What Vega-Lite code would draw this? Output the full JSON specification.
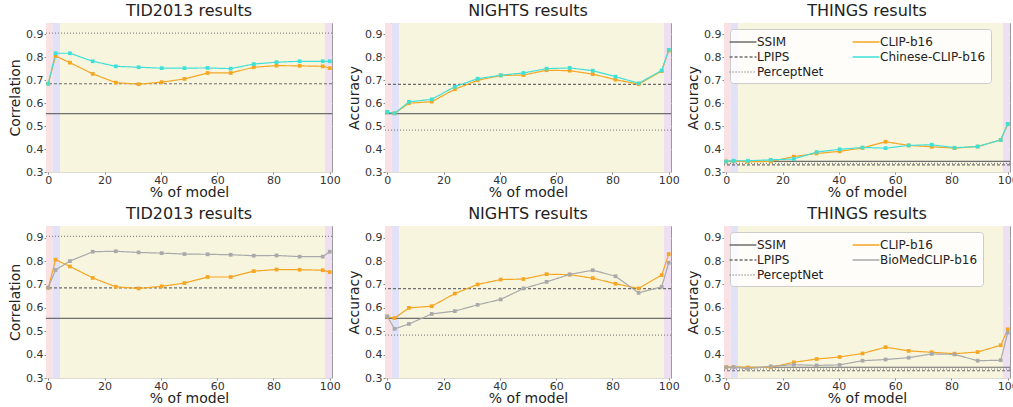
{
  "$schema": "https://vega.github.io/schema/vega-lite/v6.json",
  "background": "white",
  "padding": {"left": 8, "top": 2, "right": 0, "bottom": 0},
  "datasets": {
    "regions": [
      {"start": -0.8, "end": 1.6, "region": "a"},
      {"start": 1.6, "end": 4.2, "region": "b"},
      {"start": 4.2, "end": 98.3, "region": "c"},
      {"start": 98.3, "end": 100.8, "region": "d"}
    ],
    "baselines": [
      {"dataset": "TID2013", "name": "SSIM", "value": 0.555},
      {"dataset": "TID2013", "name": "LPIPS", "value": 0.685},
      {"dataset": "TID2013", "name": "PerceptNet", "value": 0.906},
      {"dataset": "NIGHTS", "name": "SSIM", "value": 0.555},
      {"dataset": "NIGHTS", "name": "LPIPS", "value": 0.682},
      {"dataset": "NIGHTS", "name": "PerceptNet", "value": 0.483},
      {"dataset": "THINGS", "name": "SSIM", "value": 0.346},
      {"dataset": "THINGS", "name": "LPIPS", "value": 0.331},
      {"dataset": "THINGS", "name": "PerceptNet", "value": 0.338}
    ],
    "curves": [
      {"dataset": "TID2013", "name": "CLIP-b16", "x": 0, "y": 0.685},
      {"dataset": "TID2013", "name": "CLIP-b16", "x": 2.6, "y": 0.806},
      {"dataset": "TID2013", "name": "CLIP-b16", "x": 7.7, "y": 0.777},
      {"dataset": "TID2013", "name": "CLIP-b16", "x": 15.8, "y": 0.728},
      {"dataset": "TID2013", "name": "CLIP-b16", "x": 24, "y": 0.690},
      {"dataset": "TID2013", "name": "CLIP-b16", "x": 32.1, "y": 0.683},
      {"dataset": "TID2013", "name": "CLIP-b16", "x": 40.3, "y": 0.692},
      {"dataset": "TID2013", "name": "CLIP-b16", "x": 48.4, "y": 0.706},
      {"dataset": "TID2013", "name": "CLIP-b16", "x": 56.6, "y": 0.732},
      {"dataset": "TID2013", "name": "CLIP-b16", "x": 64.8, "y": 0.732},
      {"dataset": "TID2013", "name": "CLIP-b16", "x": 73, "y": 0.757},
      {"dataset": "TID2013", "name": "CLIP-b16", "x": 81.1, "y": 0.764},
      {"dataset": "TID2013", "name": "CLIP-b16", "x": 89.3, "y": 0.763},
      {"dataset": "TID2013", "name": "CLIP-b16", "x": 97.5, "y": 0.761},
      {"dataset": "TID2013", "name": "CLIP-b16", "x": 100, "y": 0.753},
      {"dataset": "TID2013", "name": "Chinese-CLIP-b16", "x": 0, "y": 0.685},
      {"dataset": "TID2013", "name": "Chinese-CLIP-b16", "x": 2.6, "y": 0.818},
      {"dataset": "TID2013", "name": "Chinese-CLIP-b16", "x": 7.7, "y": 0.818},
      {"dataset": "TID2013", "name": "Chinese-CLIP-b16", "x": 15.8, "y": 0.783},
      {"dataset": "TID2013", "name": "Chinese-CLIP-b16", "x": 24, "y": 0.761},
      {"dataset": "TID2013", "name": "Chinese-CLIP-b16", "x": 32.1, "y": 0.757},
      {"dataset": "TID2013", "name": "Chinese-CLIP-b16", "x": 40.3, "y": 0.753},
      {"dataset": "TID2013", "name": "Chinese-CLIP-b16", "x": 48.4, "y": 0.753},
      {"dataset": "TID2013", "name": "Chinese-CLIP-b16", "x": 56.6, "y": 0.754},
      {"dataset": "TID2013", "name": "Chinese-CLIP-b16", "x": 64.8, "y": 0.751},
      {"dataset": "TID2013", "name": "Chinese-CLIP-b16", "x": 73, "y": 0.771},
      {"dataset": "TID2013", "name": "Chinese-CLIP-b16", "x": 81.1, "y": 0.779},
      {"dataset": "TID2013", "name": "Chinese-CLIP-b16", "x": 89.3, "y": 0.783},
      {"dataset": "TID2013", "name": "Chinese-CLIP-b16", "x": 97.5, "y": 0.783},
      {"dataset": "TID2013", "name": "Chinese-CLIP-b16", "x": 100, "y": 0.783},
      {"dataset": "TID2013", "name": "BioMedCLIP-b16", "x": 0, "y": 0.687},
      {"dataset": "TID2013", "name": "BioMedCLIP-b16", "x": 2.6, "y": 0.762},
      {"dataset": "TID2013", "name": "BioMedCLIP-b16", "x": 7.7, "y": 0.800},
      {"dataset": "TID2013", "name": "BioMedCLIP-b16", "x": 15.8, "y": 0.840},
      {"dataset": "TID2013", "name": "BioMedCLIP-b16", "x": 24, "y": 0.842},
      {"dataset": "TID2013", "name": "BioMedCLIP-b16", "x": 32.1, "y": 0.837},
      {"dataset": "TID2013", "name": "BioMedCLIP-b16", "x": 40.3, "y": 0.834},
      {"dataset": "TID2013", "name": "BioMedCLIP-b16", "x": 48.4, "y": 0.830},
      {"dataset": "TID2013", "name": "BioMedCLIP-b16", "x": 56.6, "y": 0.829},
      {"dataset": "TID2013", "name": "BioMedCLIP-b16", "x": 64.8, "y": 0.827},
      {"dataset": "TID2013", "name": "BioMedCLIP-b16", "x": 73, "y": 0.823},
      {"dataset": "TID2013", "name": "BioMedCLIP-b16", "x": 81.1, "y": 0.824},
      {"dataset": "TID2013", "name": "BioMedCLIP-b16", "x": 89.3, "y": 0.819},
      {"dataset": "TID2013", "name": "BioMedCLIP-b16", "x": 97.5, "y": 0.819},
      {"dataset": "TID2013", "name": "BioMedCLIP-b16", "x": 100, "y": 0.840},
      {"dataset": "NIGHTS", "name": "CLIP-b16", "x": 0, "y": 0.562},
      {"dataset": "NIGHTS", "name": "CLIP-b16", "x": 2.6, "y": 0.556},
      {"dataset": "NIGHTS", "name": "CLIP-b16", "x": 7.7, "y": 0.600},
      {"dataset": "NIGHTS", "name": "CLIP-b16", "x": 15.8, "y": 0.607},
      {"dataset": "NIGHTS", "name": "CLIP-b16", "x": 24, "y": 0.661},
      {"dataset": "NIGHTS", "name": "CLIP-b16", "x": 32.1, "y": 0.700},
      {"dataset": "NIGHTS", "name": "CLIP-b16", "x": 40.3, "y": 0.721},
      {"dataset": "NIGHTS", "name": "CLIP-b16", "x": 48.4, "y": 0.723},
      {"dataset": "NIGHTS", "name": "CLIP-b16", "x": 56.6, "y": 0.744},
      {"dataset": "NIGHTS", "name": "CLIP-b16", "x": 64.8, "y": 0.742},
      {"dataset": "NIGHTS", "name": "CLIP-b16", "x": 73, "y": 0.727},
      {"dataset": "NIGHTS", "name": "CLIP-b16", "x": 81.1, "y": 0.703},
      {"dataset": "NIGHTS", "name": "CLIP-b16", "x": 89.3, "y": 0.683},
      {"dataset": "NIGHTS", "name": "CLIP-b16", "x": 97.5, "y": 0.740},
      {"dataset": "NIGHTS", "name": "CLIP-b16", "x": 100, "y": 0.830},
      {"dataset": "NIGHTS", "name": "Chinese-CLIP-b16", "x": 0, "y": 0.562},
      {"dataset": "NIGHTS", "name": "Chinese-CLIP-b16", "x": 2.6, "y": 0.556},
      {"dataset": "NIGHTS", "name": "Chinese-CLIP-b16", "x": 7.7, "y": 0.606},
      {"dataset": "NIGHTS", "name": "Chinese-CLIP-b16", "x": 15.8, "y": 0.617},
      {"dataset": "NIGHTS", "name": "Chinese-CLIP-b16", "x": 24, "y": 0.672},
      {"dataset": "NIGHTS", "name": "Chinese-CLIP-b16", "x": 32.1, "y": 0.707},
      {"dataset": "NIGHTS", "name": "Chinese-CLIP-b16", "x": 40.3, "y": 0.722},
      {"dataset": "NIGHTS", "name": "Chinese-CLIP-b16", "x": 48.4, "y": 0.732},
      {"dataset": "NIGHTS", "name": "Chinese-CLIP-b16", "x": 56.6, "y": 0.751},
      {"dataset": "NIGHTS", "name": "Chinese-CLIP-b16", "x": 64.8, "y": 0.754},
      {"dataset": "NIGHTS", "name": "Chinese-CLIP-b16", "x": 73, "y": 0.742},
      {"dataset": "NIGHTS", "name": "Chinese-CLIP-b16", "x": 81.1, "y": 0.716},
      {"dataset": "NIGHTS", "name": "Chinese-CLIP-b16", "x": 89.3, "y": 0.687},
      {"dataset": "NIGHTS", "name": "Chinese-CLIP-b16", "x": 97.5, "y": 0.743},
      {"dataset": "NIGHTS", "name": "Chinese-CLIP-b16", "x": 100, "y": 0.833},
      {"dataset": "NIGHTS", "name": "BioMedCLIP-b16", "x": 0, "y": 0.564},
      {"dataset": "NIGHTS", "name": "BioMedCLIP-b16", "x": 2.6, "y": 0.510},
      {"dataset": "NIGHTS", "name": "BioMedCLIP-b16", "x": 7.7, "y": 0.531},
      {"dataset": "NIGHTS", "name": "BioMedCLIP-b16", "x": 15.8, "y": 0.574},
      {"dataset": "NIGHTS", "name": "BioMedCLIP-b16", "x": 24, "y": 0.586},
      {"dataset": "NIGHTS", "name": "BioMedCLIP-b16", "x": 32.1, "y": 0.613},
      {"dataset": "NIGHTS", "name": "BioMedCLIP-b16", "x": 40.3, "y": 0.636},
      {"dataset": "NIGHTS", "name": "BioMedCLIP-b16", "x": 48.4, "y": 0.683},
      {"dataset": "NIGHTS", "name": "BioMedCLIP-b16", "x": 56.6, "y": 0.711},
      {"dataset": "NIGHTS", "name": "BioMedCLIP-b16", "x": 64.8, "y": 0.743},
      {"dataset": "NIGHTS", "name": "BioMedCLIP-b16", "x": 73, "y": 0.761},
      {"dataset": "NIGHTS", "name": "BioMedCLIP-b16", "x": 81.1, "y": 0.735},
      {"dataset": "NIGHTS", "name": "BioMedCLIP-b16", "x": 89.3, "y": 0.664},
      {"dataset": "NIGHTS", "name": "BioMedCLIP-b16", "x": 97.5, "y": 0.690},
      {"dataset": "NIGHTS", "name": "BioMedCLIP-b16", "x": 100, "y": 0.793},
      {"dataset": "THINGS", "name": "CLIP-b16", "x": 0, "y": 0.346},
      {"dataset": "THINGS", "name": "CLIP-b16", "x": 2.6, "y": 0.347},
      {"dataset": "THINGS", "name": "CLIP-b16", "x": 7.7, "y": 0.345},
      {"dataset": "THINGS", "name": "CLIP-b16", "x": 15.8, "y": 0.346},
      {"dataset": "THINGS", "name": "CLIP-b16", "x": 24, "y": 0.367},
      {"dataset": "THINGS", "name": "CLIP-b16", "x": 32.1, "y": 0.381},
      {"dataset": "THINGS", "name": "CLIP-b16", "x": 40.3, "y": 0.390},
      {"dataset": "THINGS", "name": "CLIP-b16", "x": 48.4, "y": 0.405},
      {"dataset": "THINGS", "name": "CLIP-b16", "x": 56.6, "y": 0.432},
      {"dataset": "THINGS", "name": "CLIP-b16", "x": 64.8, "y": 0.416},
      {"dataset": "THINGS", "name": "CLIP-b16", "x": 73, "y": 0.410},
      {"dataset": "THINGS", "name": "CLIP-b16", "x": 81.1, "y": 0.404},
      {"dataset": "THINGS", "name": "CLIP-b16", "x": 89.3, "y": 0.411},
      {"dataset": "THINGS", "name": "CLIP-b16", "x": 97.5, "y": 0.440},
      {"dataset": "THINGS", "name": "CLIP-b16", "x": 100, "y": 0.508},
      {"dataset": "THINGS", "name": "Chinese-CLIP-b16", "x": 0, "y": 0.346},
      {"dataset": "THINGS", "name": "Chinese-CLIP-b16", "x": 2.6, "y": 0.349},
      {"dataset": "THINGS", "name": "Chinese-CLIP-b16", "x": 7.7, "y": 0.349},
      {"dataset": "THINGS", "name": "Chinese-CLIP-b16", "x": 15.8, "y": 0.353},
      {"dataset": "THINGS", "name": "Chinese-CLIP-b16", "x": 24, "y": 0.357},
      {"dataset": "THINGS", "name": "Chinese-CLIP-b16", "x": 32.1, "y": 0.387},
      {"dataset": "THINGS", "name": "Chinese-CLIP-b16", "x": 40.3, "y": 0.399},
      {"dataset": "THINGS", "name": "Chinese-CLIP-b16", "x": 48.4, "y": 0.407},
      {"dataset": "THINGS", "name": "Chinese-CLIP-b16", "x": 56.6, "y": 0.404},
      {"dataset": "THINGS", "name": "Chinese-CLIP-b16", "x": 64.8, "y": 0.416},
      {"dataset": "THINGS", "name": "Chinese-CLIP-b16", "x": 73, "y": 0.419},
      {"dataset": "THINGS", "name": "Chinese-CLIP-b16", "x": 81.1, "y": 0.406},
      {"dataset": "THINGS", "name": "Chinese-CLIP-b16", "x": 89.3, "y": 0.411},
      {"dataset": "THINGS", "name": "Chinese-CLIP-b16", "x": 97.5, "y": 0.440},
      {"dataset": "THINGS", "name": "Chinese-CLIP-b16", "x": 100, "y": 0.510},
      {"dataset": "THINGS", "name": "BioMedCLIP-b16", "x": 0, "y": 0.346},
      {"dataset": "THINGS", "name": "BioMedCLIP-b16", "x": 2.6, "y": 0.346},
      {"dataset": "THINGS", "name": "BioMedCLIP-b16", "x": 7.7, "y": 0.340},
      {"dataset": "THINGS", "name": "BioMedCLIP-b16", "x": 15.8, "y": 0.350},
      {"dataset": "THINGS", "name": "BioMedCLIP-b16", "x": 24, "y": 0.357},
      {"dataset": "THINGS", "name": "BioMedCLIP-b16", "x": 32.1, "y": 0.354},
      {"dataset": "THINGS", "name": "BioMedCLIP-b16", "x": 40.3, "y": 0.356},
      {"dataset": "THINGS", "name": "BioMedCLIP-b16", "x": 48.4, "y": 0.374},
      {"dataset": "THINGS", "name": "BioMedCLIP-b16", "x": 56.6, "y": 0.379},
      {"dataset": "THINGS", "name": "BioMedCLIP-b16", "x": 64.8, "y": 0.387},
      {"dataset": "THINGS", "name": "BioMedCLIP-b16", "x": 73, "y": 0.403},
      {"dataset": "THINGS", "name": "BioMedCLIP-b16", "x": 81.1, "y": 0.401},
      {"dataset": "THINGS", "name": "BioMedCLIP-b16", "x": 89.3, "y": 0.374},
      {"dataset": "THINGS", "name": "BioMedCLIP-b16", "x": 97.5, "y": 0.376},
      {"dataset": "THINGS", "name": "BioMedCLIP-b16", "x": 100, "y": 0.494}
    ]
  },
  "columns": 3,
  "spacing": {"row": 54, "column": 53},
  "bounds": "flush",
  "resolve": {
    "scale": {"color": "independent", "strokeDash": "independent", "fill": "independent", "x": "independent", "y": "independent"},
    "legend": {"color": "independent", "strokeDash": "independent"}
  },
  "concat": [
    {
      "title": "TID2013 results", "width": 286, "height": 149,
      "layer": [
        {"data": {"name": "regions"}, "mark": {"type": "rect"},
         "encoding": {
           "x": {"field": "start", "type": "quantitative", "title": "% of model", "axis": {"values": [0, 20, 40, 60, 80, 100]}, "scale": {"domain": [-0.8, 100.8], "nice": false, "zero": false}},
           "x2": {"field": "end"},
           "fill": {"field": "region", "type": "nominal", "legend": null, "scale": {"domain": ["a", "b", "c", "d"], "range": ["#f9e1e4", "#e1e1f8", "#f8f5df", "#efdff2"]}}}},
        {"data": {"name": "baselines"}, "transform": [{"filter": "datum.dataset == 'TID2013'"}],
         "mark": {"type": "rule", "strokeWidth": 1.2},
         "encoding": {
           "y": {"field": "value", "type": "quantitative", "title": "Correlation", "axis": {"values": [0.3, 0.4, 0.5, 0.6, 0.7, 0.8, 0.9]}, "scale": {"domain": [0.3, 0.95], "nice": false, "zero": false}},
           "color": {"field": "name", "type": "nominal", "legend": null, "scale": {"domain": ["SSIM", "LPIPS", "PerceptNet", "CLIP-b16", "Chinese-CLIP-b16"], "range": ["#6e6e6e", "#6e6e6e", "#8a8a8a", "#f5a623", "#3fe0d8"]}},
           "strokeDash": {"field": "name", "type": "nominal", "legend": null, "scale": {"domain": ["SSIM", "LPIPS", "PerceptNet", "CLIP-b16", "Chinese-CLIP-b16"], "range": [[1, 0], [3, 2], [1, 2], [1, 0], [1, 0]]}}}},
        {"data": {"name": "curves"}, "transform": [{"filter": "datum.dataset == 'TID2013' && (datum.name == 'CLIP-b16' || datum.name == 'Chinese-CLIP-b16')"}],
         "mark": {"type": "line", "strokeWidth": 1.2, "point": {"shape": "square", "size": 14, "filled": true}},
         "encoding": {
           "x": {"field": "x", "type": "quantitative", "title": "% of model", "axis": {"values": [0, 20, 40, 60, 80, 100]}},
           "y": {"field": "y", "type": "quantitative", "title": "Correlation", "axis": {"values": [0.3, 0.4, 0.5, 0.6, 0.7, 0.8, 0.9]}},
           "color": {"field": "name", "type": "nominal", "legend": null},
           "strokeDash": {"field": "name", "type": "nominal", "legend": null}}}
      ]
    },
    {
      "title": "NIGHTS results", "width": 286, "height": 149,
      "layer": [
        {"data": {"name": "regions"}, "mark": {"type": "rect"},
         "encoding": {
           "x": {"field": "start", "type": "quantitative", "title": "% of model", "axis": {"values": [0, 20, 40, 60, 80, 100]}, "scale": {"domain": [-0.8, 100.8], "nice": false, "zero": false}},
           "x2": {"field": "end"},
           "fill": {"field": "region", "type": "nominal", "legend": null, "scale": {"domain": ["a", "b", "c", "d"], "range": ["#f9e1e4", "#e1e1f8", "#f8f5df", "#efdff2"]}}}},
        {"data": {"name": "baselines"}, "transform": [{"filter": "datum.dataset == 'NIGHTS'"}],
         "mark": {"type": "rule", "strokeWidth": 1.2},
         "encoding": {
           "y": {"field": "value", "type": "quantitative", "title": "Accuracy", "axis": {"values": [0.3, 0.4, 0.5, 0.6, 0.7, 0.8, 0.9]}, "scale": {"domain": [0.3, 0.95], "nice": false, "zero": false}},
           "color": {"field": "name", "type": "nominal", "legend": null, "scale": {"domain": ["SSIM", "LPIPS", "PerceptNet", "CLIP-b16", "Chinese-CLIP-b16"], "range": ["#6e6e6e", "#6e6e6e", "#8a8a8a", "#f5a623", "#3fe0d8"]}},
           "strokeDash": {"field": "name", "type": "nominal", "legend": null, "scale": {"domain": ["SSIM", "LPIPS", "PerceptNet", "CLIP-b16", "Chinese-CLIP-b16"], "range": [[1, 0], [3, 2], [1, 2], [1, 0], [1, 0]]}}}},
        {"data": {"name": "curves"}, "transform": [{"filter": "datum.dataset == 'NIGHTS' && (datum.name == 'CLIP-b16' || datum.name == 'Chinese-CLIP-b16')"}],
         "mark": {"type": "line", "strokeWidth": 1.2, "point": {"shape": "square", "size": 14, "filled": true}},
         "encoding": {
           "x": {"field": "x", "type": "quantitative", "title": "% of model", "axis": {"values": [0, 20, 40, 60, 80, 100]}},
           "y": {"field": "y", "type": "quantitative", "title": "Accuracy", "axis": {"values": [0.3, 0.4, 0.5, 0.6, 0.7, 0.8, 0.9]}},
           "color": {"field": "name", "type": "nominal", "legend": null},
           "strokeDash": {"field": "name", "type": "nominal", "legend": null}}}
      ]
    },
    {
      "title": "THINGS results", "width": 286, "height": 149,
      "layer": [
        {"data": {"name": "regions"}, "mark": {"type": "rect"},
         "encoding": {
           "x": {"field": "start", "type": "quantitative", "title": "% of model", "axis": {"values": [0, 20, 40, 60, 80, 100]}, "scale": {"domain": [-0.8, 100.8], "nice": false, "zero": false}},
           "x2": {"field": "end"},
           "fill": {"field": "region", "type": "nominal", "legend": null, "scale": {"domain": ["a", "b", "c", "d"], "range": ["#f9e1e4", "#e1e1f8", "#f8f5df", "#efdff2"]}}}},
        {"data": {"name": "baselines"}, "transform": [{"filter": "datum.dataset == 'THINGS'"}],
         "mark": {"type": "rule", "strokeWidth": 1.2},
         "encoding": {
           "y": {"field": "value", "type": "quantitative", "title": "Accuracy", "axis": {"values": [0.3, 0.4, 0.5, 0.6, 0.7, 0.8, 0.9]}, "scale": {"domain": [0.3, 0.95], "nice": false, "zero": false}},
           "color": {"field": "name", "type": "nominal", "title": null, "scale": {"domain": ["SSIM", "LPIPS", "PerceptNet", "CLIP-b16", "Chinese-CLIP-b16"], "range": ["#6e6e6e", "#6e6e6e", "#8a8a8a", "#f5a623", "#3fe0d8"]}},
           "strokeDash": {"field": "name", "type": "nominal", "title": null, "scale": {"domain": ["SSIM", "LPIPS", "PerceptNet", "CLIP-b16", "Chinese-CLIP-b16"], "range": [[1, 0], [3, 2], [1, 2], [1, 0], [1, 0]]}}}},
        {"data": {"name": "curves"}, "transform": [{"filter": "datum.dataset == 'THINGS' && (datum.name == 'CLIP-b16' || datum.name == 'Chinese-CLIP-b16')"}],
         "mark": {"type": "line", "strokeWidth": 1.2, "point": {"shape": "square", "size": 14, "filled": true}},
         "encoding": {
           "x": {"field": "x", "type": "quantitative", "title": "% of model", "axis": {"values": [0, 20, 40, 60, 80, 100]}},
           "y": {"field": "y", "type": "quantitative", "title": "Accuracy", "axis": {"values": [0.3, 0.4, 0.5, 0.6, 0.7, 0.8, 0.9]}},
           "color": {"field": "name", "type": "nominal", "title": null},
           "strokeDash": {"field": "name", "type": "nominal", "title": null}}}
      ]
    },
    {
      "title": "TID2013 results", "width": 286, "height": 152,
      "layer": [
        {"data": {"name": "regions"}, "mark": {"type": "rect"},
         "encoding": {
           "x": {"field": "start", "type": "quantitative", "title": "% of model", "axis": {"values": [0, 20, 40, 60, 80, 100]}, "scale": {"domain": [-0.8, 100.8], "nice": false, "zero": false}},
           "x2": {"field": "end"},
           "fill": {"field": "region", "type": "nominal", "legend": null, "scale": {"domain": ["a", "b", "c", "d"], "range": ["#f9e1e4", "#e1e1f8", "#f8f5df", "#efdff2"]}}}},
        {"data": {"name": "baselines"}, "transform": [{"filter": "datum.dataset == 'TID2013'"}],
         "mark": {"type": "rule", "strokeWidth": 1.2},
         "encoding": {
           "y": {"field": "value", "type": "quantitative", "title": "Correlation", "axis": {"values": [0.3, 0.4, 0.5, 0.6, 0.7, 0.8, 0.9]}, "scale": {"domain": [0.3, 0.95], "nice": false, "zero": false}},
           "color": {"field": "name", "type": "nominal", "legend": null, "scale": {"domain": ["SSIM", "LPIPS", "PerceptNet", "CLIP-b16", "BioMedCLIP-b16"], "range": ["#6e6e6e", "#6e6e6e", "#8a8a8a", "#f5a623", "#a9a9a9"]}},
           "strokeDash": {"field": "name", "type": "nominal", "legend": null, "scale": {"domain": ["SSIM", "LPIPS", "PerceptNet", "CLIP-b16", "BioMedCLIP-b16"], "range": [[1, 0], [3, 2], [1, 2], [1, 0], [1, 0]]}}}},
        {"data": {"name": "curves"}, "transform": [{"filter": "datum.dataset == 'TID2013' && (datum.name == 'CLIP-b16' || datum.name == 'BioMedCLIP-b16')"}],
         "mark": {"type": "line", "strokeWidth": 1.2, "point": {"shape": "square", "size": 14, "filled": true}},
         "encoding": {
           "x": {"field": "x", "type": "quantitative", "title": "% of model", "axis": {"values": [0, 20, 40, 60, 80, 100]}},
           "y": {"field": "y", "type": "quantitative", "title": "Correlation", "axis": {"values": [0.3, 0.4, 0.5, 0.6, 0.7, 0.8, 0.9]}},
           "color": {"field": "name", "type": "nominal", "legend": null},
           "strokeDash": {"field": "name", "type": "nominal", "legend": null}}}
      ]
    },
    {
      "title": "NIGHTS results", "width": 286, "height": 152,
      "layer": [
        {"data": {"name": "regions"}, "mark": {"type": "rect"},
         "encoding": {
           "x": {"field": "start", "type": "quantitative", "title": "% of model", "axis": {"values": [0, 20, 40, 60, 80, 100]}, "scale": {"domain": [-0.8, 100.8], "nice": false, "zero": false}},
           "x2": {"field": "end"},
           "fill": {"field": "region", "type": "nominal", "legend": null, "scale": {"domain": ["a", "b", "c", "d"], "range": ["#f9e1e4", "#e1e1f8", "#f8f5df", "#efdff2"]}}}},
        {"data": {"name": "baselines"}, "transform": [{"filter": "datum.dataset == 'NIGHTS'"}],
         "mark": {"type": "rule", "strokeWidth": 1.2},
         "encoding": {
           "y": {"field": "value", "type": "quantitative", "title": "Accuracy", "axis": {"values": [0.3, 0.4, 0.5, 0.6, 0.7, 0.8, 0.9]}, "scale": {"domain": [0.3, 0.95], "nice": false, "zero": false}},
           "color": {"field": "name", "type": "nominal", "legend": null, "scale": {"domain": ["SSIM", "LPIPS", "PerceptNet", "CLIP-b16", "BioMedCLIP-b16"], "range": ["#6e6e6e", "#6e6e6e", "#8a8a8a", "#f5a623", "#a9a9a9"]}},
           "strokeDash": {"field": "name", "type": "nominal", "legend": null, "scale": {"domain": ["SSIM", "LPIPS", "PerceptNet", "CLIP-b16", "BioMedCLIP-b16"], "range": [[1, 0], [3, 2], [1, 2], [1, 0], [1, 0]]}}}},
        {"data": {"name": "curves"}, "transform": [{"filter": "datum.dataset == 'NIGHTS' && (datum.name == 'CLIP-b16' || datum.name == 'BioMedCLIP-b16')"}],
         "mark": {"type": "line", "strokeWidth": 1.2, "point": {"shape": "square", "size": 14, "filled": true}},
         "encoding": {
           "x": {"field": "x", "type": "quantitative", "title": "% of model", "axis": {"values": [0, 20, 40, 60, 80, 100]}},
           "y": {"field": "y", "type": "quantitative", "title": "Accuracy", "axis": {"values": [0.3, 0.4, 0.5, 0.6, 0.7, 0.8, 0.9]}},
           "color": {"field": "name", "type": "nominal", "legend": null},
           "strokeDash": {"field": "name", "type": "nominal", "legend": null}}}
      ]
    },
    {
      "title": "THINGS results", "width": 286, "height": 152,
      "layer": [
        {"data": {"name": "regions"}, "mark": {"type": "rect"},
         "encoding": {
           "x": {"field": "start", "type": "quantitative", "title": "% of model", "axis": {"values": [0, 20, 40, 60, 80, 100]}, "scale": {"domain": [-0.8, 100.8], "nice": false, "zero": false}},
           "x2": {"field": "end"},
           "fill": {"field": "region", "type": "nominal", "legend": null, "scale": {"domain": ["a", "b", "c", "d"], "range": ["#f9e1e4", "#e1e1f8", "#f8f5df", "#efdff2"]}}}},
        {"data": {"name": "baselines"}, "transform": [{"filter": "datum.dataset == 'THINGS'"}],
         "mark": {"type": "rule", "strokeWidth": 1.2},
         "encoding": {
           "y": {"field": "value", "type": "quantitative", "title": "Accuracy", "axis": {"values": [0.3, 0.4, 0.5, 0.6, 0.7, 0.8, 0.9]}, "scale": {"domain": [0.3, 0.95], "nice": false, "zero": false}},
           "color": {"field": "name", "type": "nominal", "title": null, "scale": {"domain": ["SSIM", "LPIPS", "PerceptNet", "CLIP-b16", "BioMedCLIP-b16"], "range": ["#6e6e6e", "#6e6e6e", "#8a8a8a", "#f5a623", "#a9a9a9"]}},
           "strokeDash": {"field": "name", "type": "nominal", "title": null, "scale": {"domain": ["SSIM", "LPIPS", "PerceptNet", "CLIP-b16", "BioMedCLIP-b16"], "range": [[1, 0], [3, 2], [1, 2], [1, 0], [1, 0]]}}}},
        {"data": {"name": "curves"}, "transform": [{"filter": "datum.dataset == 'THINGS' && (datum.name == 'CLIP-b16' || datum.name == 'BioMedCLIP-b16')"}],
         "mark": {"type": "line", "strokeWidth": 1.2, "point": {"shape": "square", "size": 14, "filled": true}},
         "encoding": {
           "x": {"field": "x", "type": "quantitative", "title": "% of model", "axis": {"values": [0, 20, 40, 60, 80, 100]}},
           "y": {"field": "y", "type": "quantitative", "title": "Accuracy", "axis": {"values": [0.3, 0.4, 0.5, 0.6, 0.7, 0.8, 0.9]}},
           "color": {"field": "name", "type": "nominal", "title": null},
           "strokeDash": {"field": "name", "type": "nominal", "title": null}}}
      ]
    }
  ],
  "config": {
    "font": "DejaVu Sans",
    "view": {"stroke": "#9a9a9a", "strokeWidth": 1},
    "title": {"fontSize": 16, "fontWeight": "normal", "color": "#222222", "offset": 0, "font": "DejaVu Sans"},
    "axis": {
      "labelFont": "DejaVu Sans", "titleFont": "DejaVu Sans",
      "labelFontSize": 11, "titleFontSize": 14, "titleFontWeight": "normal",
      "labelColor": "#333333", "titleColor": "#222222",
      "domain": false, "tickColor": "#888888", "tickSize": 2, "labelPadding": 1,
      "labelOverlap": false,
      "gridColor": "#dedbd0", "gridWidth": 1, "zindex": 1
    },
    "axisX": {"grid": false, "titlePadding": 0, "labelPadding": 0, "labelFlush": false},
    "axisY": {"grid": true, "format": ".1f", "titlePadding": 3},
    "legend": {
      "orient": "top-left", "offset": 6, "columns": 2, "direction": "vertical",
      "fillColor": "rgba(255,255,255,0.8)", "strokeColor": "#cccccc", "cornerRadius": 3,
      "padding": 5, "labelFontSize": 12, "labelColor": "#222222", "labelFont": "DejaVu Sans",
      "symbolType": "M-1.9,0H1.9", "symbolSize": 200, "symbolStrokeWidth": 1.3, "symbolFillColor": "transparent",
      "columnPadding": 25, "rowPadding": 1, "labelOffset": 6, "titleFontSize": 0
    }
  }
}
